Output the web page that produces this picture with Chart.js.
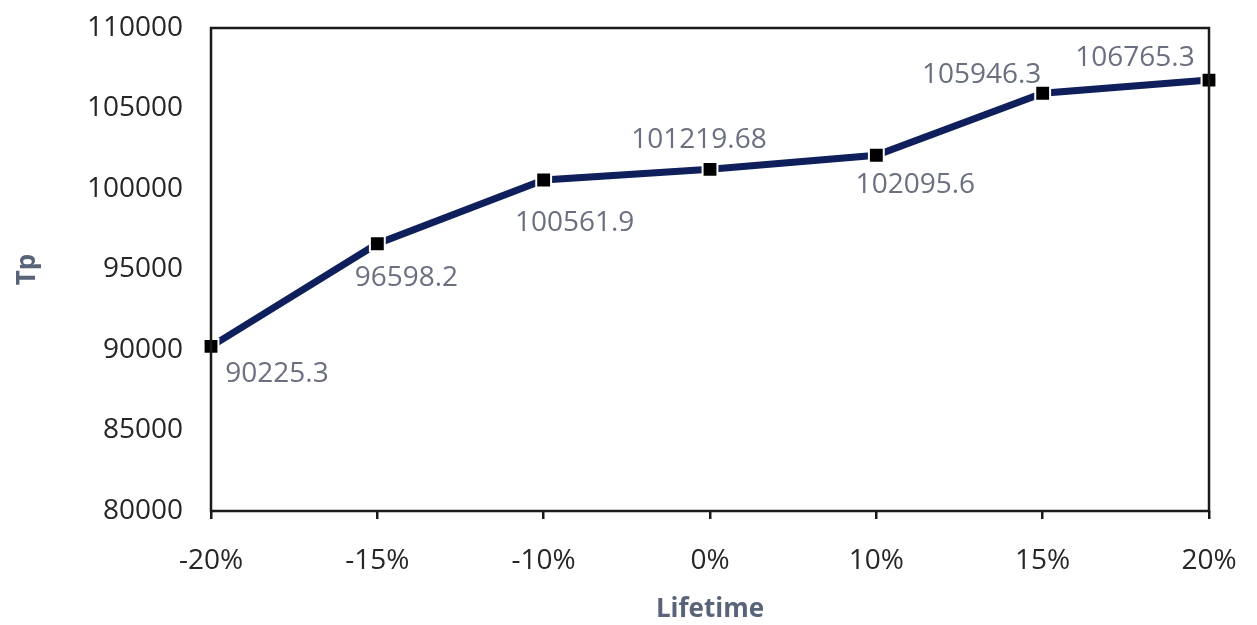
<!DOCTYPE html>
<html>
<head>
<meta charset="utf-8">
<script src="https://cdn.jsdelivr.net/npm/chart.js@4"></script>
<style>
  html, body { margin: 0; padding: 0; background: #ffffff; }
  #wrap { width: 1257px; height: 625px; }
</style>
</head>
<body>
<div id="wrap"><canvas id="c" width="1257" height="625"></canvas></div>
<script>
// Throughput Tp as the lifetime parameter varies
const categories = ['-20%', '-15%', '-10%', '0%', '10%', '15%', '20%'];
const tpValues = [90225.3, 96598.2, 100561.9, 101219.68, 102095.6, 105946.3, 106765.3];
const valueLabels = ['90225.3', '96598.2', '100561.9', '101219.68', '102095.6', '105946.3', '106765.3'];
const yTicks = [80000, 85000, 90000, 95000, 100000, 105000, 110000];

// where each value label sits relative to its point (dx, dy in px, text centre)
const labelOffsets = [[66, 28], [29, 34], [31, 43], [-11, -29], [39, 30], [-61, -18], [-74, -22]];

const FONT = "'Open Sans', 'Liberation Sans', sans-serif";

const frameAndLabels = {
  id: 'frameAndLabels',
  afterDatasetsDraw(chart) {
    const { ctx, chartArea: a } = chart;
    ctx.save();
    ctx.strokeStyle = '#1a1a1a';
    ctx.lineWidth = 2.5;
    ctx.strokeRect(a.left, a.top, a.right - a.left, a.bottom - a.top);
    const meta = chart.getDatasetMeta(0);
    ctx.font = '28px ' + FONT;
    ctx.fillStyle = '#6b7080';
    ctx.textAlign = 'center';
    ctx.textBaseline = 'middle';
    meta.data.forEach((pt, i) => {
      const [dx, dy] = labelOffsets[i];
      ctx.fillText(valueLabels[i], pt.x + dx, pt.y + dy);
    });
    ctx.restore();
  }
};

new Chart(document.getElementById('c'), {
  type: 'line',
  data: {
    labels: categories,
    datasets: [{
      data: tpValues,
      borderColor: '#0e1f5b',
      borderWidth: 7,
      tension: 0,
      pointStyle: 'rect',
      pointRadius: 10.5,
      pointBackgroundColor: '#000000',
      pointBorderColor: '#ffffff',
      pointBorderWidth: 2,
      clip: false
    }]
  },
  options: {
    responsive: false,
    animation: false,
    events: [],
    layout: { autoPadding: false, padding: { left: 0, right: 48, top: 28, bottom: 0 } },
    plugins: { legend: { display: false }, tooltip: { enabled: false } },
    scales: {
      x: {
        type: 'category',
        offset: false,
        grid: { display: true, drawOnChartArea: false, drawTicks: true, tickLength: 8, color: '#1a1a1a', lineWidth: 2.5 },
        border: { display: false },
        ticks: { color: '#262626', font: { family: FONT, size: 28 }, padding: 25, maxRotation: 0, autoSkip: false },
        title: { display: true, text: 'Lifetime', color: '#5a6478', font: { family: FONT, size: 26, weight: 'bold' }, padding: { top: 0, bottom: 0 } },
        afterFit(s) { s.height = 114; s.paddingLeft = 0; s.paddingRight = 0; }
      },
      y: {
        min: 80000,
        max: 110000,
        afterBuildTicks(s) { s.ticks = yTicks.map(v => ({ value: v })); },
        grid: { display: false, drawTicks: false },
        border: { display: false },
        ticks: { color: '#262626', font: { family: FONT, size: 28 }, padding: 28, callback: v => String(v) },
        title: { display: true, text: 'Tp', color: '#5a6478', font: { family: FONT, size: 26, weight: 'bold' }, padding: { top: 12, bottom: 0 } },
        afterFit(s) { s.width = 211; s.paddingTop = 0; s.paddingBottom = 0; }
      }
    }
  },
  plugins: [frameAndLabels]
});
</script>
</body>
</html>
